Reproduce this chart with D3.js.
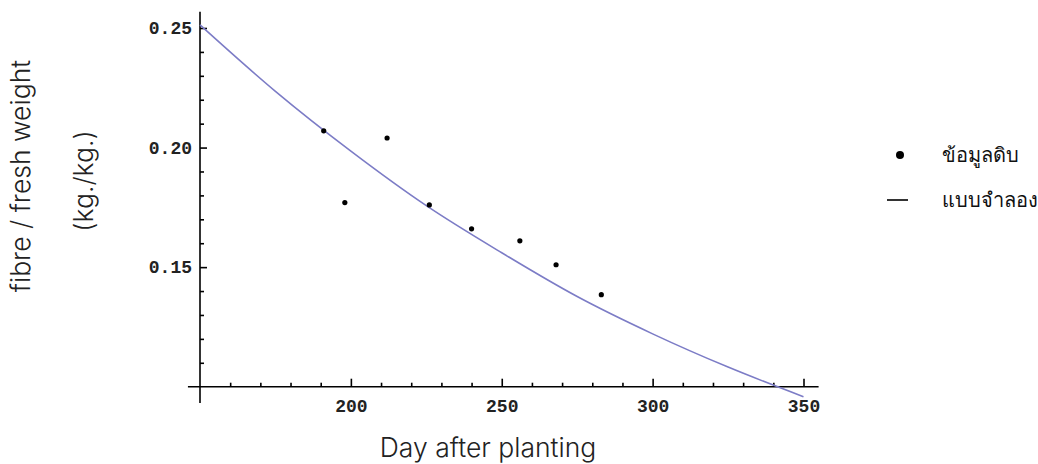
<!DOCTYPE html>
<html lang="en">
<head>
<meta charset="UTF-8">
<title>Fibre / fresh weight vs day after planting</title>
<script src="https://d3js.org/d3.v7.min.js"></script>
<style>
  body { margin: 0; background: #fff; }
  svg { display: block; }
  .tick text { font-family: "Liberation Mono", monospace; font-size: 18px; font-weight: bold; fill: #222; }
  .axis path.domain { display: none; }
  .axis line { stroke: #000; stroke-width: 1.6px; }
  .title { font-family: Inter, "Noto Sans", sans-serif; font-weight: 300; font-size: 26.5px; fill: #222; }
  .legend text { font-family: "Liberation Serif", serif; font-size: 20px; fill: #111; }
</style>
</head>
<body>
<svg width="1038" height="464"></svg>
<script>
  // raw data: day after planting vs fibre / fresh weight
  const days = [191, 198, 212, 226, 240, 256, 268, 283];
  const fibre = [0.207, 0.177, 0.204, 0.176, 0.166, 0.161, 0.151, 0.1385];

  // model curve
  const modelDays = [150, 175, 200, 225, 250, 275, 300, 325, 350];
  const modelFibre = [0.2513, 0.2235, 0.1985, 0.1757, 0.1560, 0.1377, 0.1221, 0.1082, 0.0958];

  const xMajor = [200, 250, 300, 350];
  const yMajor = [0.15, 0.20, 0.25];
  const legendLabels = ["ข้อมูลดิบ", "แบบจำลอง"];

  const svg = d3.select("svg");

  const x = d3.scaleLinear().domain([150, 350]).range([200, 803.5]);
  const y = d3.scaleLinear().domain([0.10, 0.25]).range([386.7, 28]);

  const xMinor = d3.range(160, 351, 10).filter(d => !xMajor.includes(d));
  const yMinor = d3.range(0.11, 0.255, 0.01).filter(d => !yMajor.some(m => Math.abs(m - d) < 1e-6));

  // axis lines (Mathematica style, crossing at origin)
  svg.append("line")
    .attr("x1", x(146)).attr("x2", x(355))
    .attr("y1", y(0.10)).attr("y2", y(0.10))
    .attr("stroke", "#000").attr("stroke-width", 1.6);
  svg.append("line")
    .attr("x1", x(150)).attr("x2", x(150))
    .attr("y1", y(0.2568)).attr("y2", y(0.0932))
    .attr("stroke", "#000").attr("stroke-width", 1.6);

  // x ticks
  svg.append("g").attr("class", "axis")
    .attr("transform", `translate(0,${y(0.10)})`)
    .call(d3.axisBottom(x).tickValues(xMinor).tickSize(-4).tickFormat(""));
  svg.append("g").attr("class", "axis")
    .attr("transform", `translate(0,${y(0.10)})`)
    .call(d3.axisBottom(x).tickValues(xMajor).tickSize(-8).tickPadding(13).tickFormat(d3.format("d")));

  // y ticks
  svg.append("g").attr("class", "axis")
    .attr("transform", `translate(${x(150)},0)`)
    .call(d3.axisLeft(y).tickValues(yMinor).tickSize(-4).tickFormat(""));
  svg.append("g").attr("class", "axis")
    .attr("transform", `translate(${x(150)},0)`)
    .call(d3.axisLeft(y).tickValues(yMajor).tickSize(-7).tickPadding(8).tickFormat(d3.format(".2f")));

  // model curve
  const line = d3.line()
    .x((d, i) => x(modelDays[i]))
    .y(d => y(d))
    .curve(d3.curveMonotoneX);
  svg.append("path")
    .datum(modelFibre)
    .attr("d", line)
    .attr("fill", "none")
    .attr("stroke", "#7c7cc6")
    .attr("stroke-width", 1.6);

  // data points
  svg.selectAll("circle.pt")
    .data(days)
    .enter()
    .append("circle")
    .attr("class", "pt")
    .attr("cx", d => x(d))
    .attr("cy", (d, i) => y(fibre[i]))
    .attr("r", 2.6)
    .attr("fill", "#000");

  // axis titles
  svg.append("text").attr("class", "title")
    .attr("x", 488).attr("y", 457)
    .attr("text-anchor", "middle")
    .text("Day after planting");
  svg.append("text").attr("class", "title")
    .attr("transform", "translate(30,176) rotate(-90)")
    .attr("text-anchor", "middle")
    .text("fibre / fresh weight");
  svg.append("text").attr("class", "title")
    .attr("transform", "translate(93,181) rotate(-90)")
    .attr("text-anchor", "middle")
    .text("(kg./kg.)");

  // legend
  const legend = svg.append("g").attr("class", "legend");
  legend.append("circle").attr("cx", 900).attr("cy", 155).attr("r", 4).attr("fill", "#000");
  legend.append("line").attr("x1", 887).attr("x2", 908).attr("y1", 200).attr("y2", 200)
    .attr("stroke", "#000").attr("stroke-width", 1.6);
  legend.selectAll("text")
    .data(legendLabels)
    .enter()
    .append("text")
    .attr("x", 942)
    .attr("y", (d, i) => 155 + i * 45)
    .attr("dy", "0.35em")
    .text(d => d);
</script>
</body>
</html>
